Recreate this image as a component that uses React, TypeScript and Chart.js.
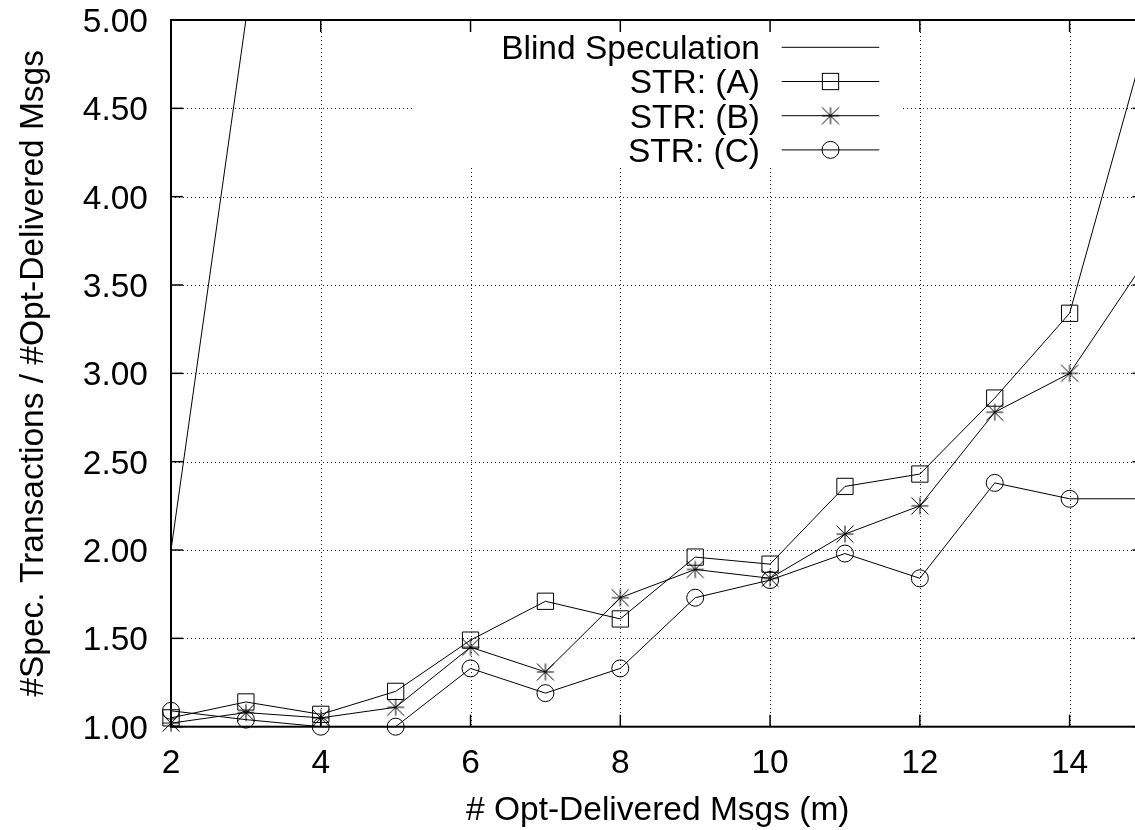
import React, { useEffect, useRef } from 'react';
import { Chart, registerables } from 'chart.js';

Chart.register(...registerables);

// ---- data ----
const xValues = [2, 3, 4, 5, 6, 7, 8, 9, 10, 11, 12, 13, 14, 15];
const blindX = [2, 3, 4];
const blindValues = [2.0, 5.0, 16.0];
const strAValues = [1.05, 1.14, 1.07, 1.2, 1.49, 1.71, 1.61, 1.96, 1.92, 2.36, 2.43, 2.86, 3.34, 4.86];
const strBValues = [1.02, 1.08, 1.05, 1.11, 1.45, 1.31, 1.73, 1.89, 1.84, 2.09, 2.25, 2.78, 3.0, 3.63];
const strCValues = [1.09, 1.04, 1.0, 1.0, 1.33, 1.19, 1.33, 1.73, 1.83, 1.98, 1.84, 2.38, 2.29, 2.29];
const seriesLabels = ['Blind Speculation', 'STR: (A)', 'STR: (B)', 'STR: (C)'];
const xTickValues = [2, 4, 6, 8, 10, 12, 14];
const yTickValues = [1.0, 1.5, 2.0, 2.5, 3.0, 3.5, 4.0, 4.5, 5.0];
const xTitle = '# Opt-Delivered Msgs (m)';
const yTitle = '#Spec. Transactions / #Opt-Delivered Msgs';

const FONT_PX = 33.5;
const FONT = `${FONT_PX}px 'Liberation Sans', Arial, Helvetica, sans-serif`;
const CAP = FONT_PX * 0.358;

function makeStar(r: number): HTMLCanvasElement {
  const size = Math.ceil(r * 2 + 3);
  const c = document.createElement('canvas');
  c.width = size;
  c.height = size;
  const g = c.getContext('2d')!;
  const m = size / 2;
  g.strokeStyle = '#000';
  g.lineWidth = 1;
  g.beginPath();
  g.moveTo(m, m - r); g.lineTo(m, m + r);
  g.moveTo(m - r, m); g.lineTo(m + r, m);
  g.moveTo(m - r, m - r); g.lineTo(m + r, m + r);
  g.moveTo(m + r, m - r); g.lineTo(m - r, m + r);
  g.stroke();
  return c;
}

function fmt(v: number) {
  return v.toFixed(2);
}

export default function App() {
  const ref = useRef<HTMLCanvasElement | null>(null);

  useEffect(() => {
    const canvas = ref.current;
    if (!canvas) return;
    const star = makeStar(8.5);

    const line = (ctx: CanvasRenderingContext2D, x1: number, y1: number, x2: number, y2: number) => {
      ctx.beginPath();
      ctx.moveTo(x1, y1);
      ctx.lineTo(x2, y2);
      ctx.stroke();
    };

    const legendBox = { left: 413, right: 900, bottom: 168 };
    const legendTextRight = 760;
    const sampleStart = 781.7;
    const sampleEnd = 879.3;
    const rowTop = 47.3;
    const rowGap = 34.2;

    const gnuplotPlugin = {
      id: 'gnuplotFrame',
      beforeDatasetsDraw(chart: any) {
        const { ctx, chartArea: a, scales } = chart;
        const xs = scales.x;
        const ys = scales.y;
        ctx.save();
        ctx.strokeStyle = '#222';
        ctx.lineWidth = 1;
        ctx.setLineDash([1, 3]);
        xTickValues.forEach((v) => {
          if (v === xs.min) return;
          const px = Math.round(xs.getPixelForValue(v)) + 0.5;
          line(ctx, px, a.top, px, a.bottom);
        });
        yTickValues.forEach((v) => {
          if (v === ys.min || v === ys.max) return;
          const py = Math.round(ys.getPixelForValue(v)) + 0.5;
          line(ctx, a.left, py, a.right, py);
        });
        ctx.setLineDash([]);
        ctx.fillStyle = '#fff';
        ctx.fillRect(legendBox.left, a.top + 1, legendBox.right - legendBox.left, legendBox.bottom - a.top - 1);
        ctx.restore();
      },
      afterDatasetsDraw(chart: any) {
        const { ctx, chartArea: a, scales } = chart;
        const xs = scales.x;
        const ys = scales.y;
        ctx.save();
        // border
        ctx.strokeStyle = '#000';
        ctx.lineWidth = 2;
        ctx.strokeRect(a.left, a.top, a.right - a.left, a.bottom - a.top);
        // inward ticks
        ctx.lineWidth = 1.5;
        const tl = 12;
        xTickValues.forEach((v) => {
          const px = xs.getPixelForValue(v);
          line(ctx, px, a.bottom, px, a.bottom - tl);
          line(ctx, px, a.top, px, a.top + tl);
        });
        yTickValues.forEach((v) => {
          const py = ys.getPixelForValue(v);
          line(ctx, a.left, py, a.left + tl, py);
          line(ctx, a.right, py, a.right - tl, py);
        });
        // tick labels
        ctx.fillStyle = '#000';
        ctx.font = FONT;
        ctx.textBaseline = 'alphabetic';
        ctx.textAlign = 'right';
        yTickValues.forEach((v) => {
          const py = ys.getPixelForValue(v);
          ctx.fillText(fmt(v), a.left - 23, py + CAP);
        });
        ctx.textAlign = 'center';
        xTickValues.forEach((v) => {
          const px = xs.getPixelForValue(v);
          ctx.fillText(String(v), px, a.bottom + 46);
        });
        // axis titles
        ctx.fillText(xTitle, (a.left + a.right) / 2, 820);
        ctx.save();
        ctx.translate(43, (a.top + a.bottom) / 2);
        ctx.rotate(-Math.PI / 2);
        ctx.textAlign = 'center';
        ctx.fillText(yTitle, 0, 0);
        ctx.restore();
        // legend
        ctx.textAlign = 'right';
        const mx = (sampleStart + sampleEnd) / 2;
        seriesLabels.forEach((lab, i) => {
          const cy = rowTop + i * rowGap;
          ctx.fillStyle = '#000';
          ctx.fillText(lab, legendTextRight, cy + CAP);
          ctx.strokeStyle = '#000';
          ctx.lineWidth = 1;
          line(ctx, sampleStart, cy, sampleEnd, cy);
          if (i === 1) {
            ctx.strokeRect(mx - 8.15, cy - 8.15, 16.3, 16.3);
          } else if (i === 2) {
            ctx.drawImage(star, mx - star.width / 2, cy - star.height / 2);
          } else if (i === 3) {
            ctx.beginPath();
            ctx.arc(mx, cy, 8.5, 0, Math.PI * 2);
            ctx.stroke();
          }
        });
        ctx.restore();
      },
    };

    const toPts = (xsArr: number[], ysArr: number[]) => xsArr.map((x, i) => ({ x, y: ysArr[i] }));

    const chart = new Chart(canvas, {
      type: 'line',
      data: {
        datasets: [
          {
            label: seriesLabels[0],
            data: toPts(blindX, blindValues),
            borderColor: '#000',
            borderWidth: 1,
            pointRadius: 0,
            tension: 0,
          },
          {
            label: seriesLabels[1],
            data: toPts(xValues, strAValues),
            borderColor: '#000',
            borderWidth: 1,
            pointStyle: 'rect',
            pointRadius: 11.5,
            pointBorderWidth: 1,
            pointBorderColor: '#000',
            pointBackgroundColor: 'rgba(0,0,0,0)',
            tension: 0,
            clip: false as any,
          },
          {
            label: seriesLabels[2],
            data: toPts(xValues, strBValues),
            borderColor: '#000',
            borderWidth: 1,
            pointStyle: star as any,
            pointRadius: 8.5,
            pointBorderColor: '#000',
            pointBackgroundColor: 'rgba(0,0,0,0)',
            tension: 0,
            clip: false as any,
          },
          {
            label: seriesLabels[3],
            data: toPts(xValues, strCValues),
            borderColor: '#000',
            borderWidth: 1,
            pointStyle: 'circle',
            pointRadius: 8.5,
            pointBorderWidth: 1,
            pointBorderColor: '#000',
            pointBackgroundColor: 'rgba(0,0,0,0)',
            tension: 0,
            clip: false as any,
          },
        ],
      },
      options: {
        animation: false,
        responsive: false,
        events: [],
        layout: { padding: { left: 171, top: 20, right: 15.5, bottom: 103.3 } },
        scales: {
          x: { type: 'linear', min: 2, max: 15, display: false },
          y: { type: 'linear', min: 1, max: 5, display: false },
        },
        plugins: {
          legend: { display: false },
          tooltip: { enabled: false },
        },
      },
      plugins: [gnuplotPlugin],
    });

    return () => chart.destroy();
  }, []);

  return (
    <div
      style={{
        position: 'fixed',
        left: 0,
        top: 0,
        width: 1135,
        height: 830,
        overflow: 'hidden',
        background: '#fff',
      }}
    >
      <canvas ref={ref} width={1160} height={830} style={{ display: 'block', width: 1160, height: 830 }} />
    </div>
  );
}
